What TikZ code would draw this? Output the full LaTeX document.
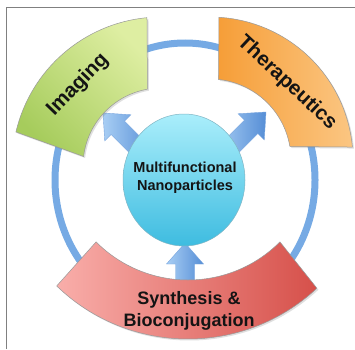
\documentclass[tikz,border=0pt]{standalone}
\usepackage{fontspec}
\setmainfont{Liberation Sans}
\usetikzlibrary{shadows}
\definecolor{framegray}{RGB}{128,128,128}
\definecolor{ringblue}{RGB}{118,170,228}
\definecolor{greenlight}{RGB}{222,238,162}
\definecolor{greendark}{RGB}{166,204,92}
\definecolor{orangedark}{RGB}{246,158,56}
\definecolor{orangelight}{RGB}{251,198,130}
\definecolor{redlight}{RGB}{249,174,170}
\definecolor{reddark}{RGB}{214,80,74}
\definecolor{cyanlight}{RGB}{170,238,251}
\definecolor{cyandark}{RGB}{62,188,224}
\definecolor{arrowlight}{RGB}{168,206,244}
\definecolor{arrowdark}{RGB}{86,142,214}
\definecolor{textblack}{RGB}{20,20,20}
\newcommand{\barrowshape}[1]{(0,0) -- (-21,18.5) -- (-21,9.5) -- (-#1,9.5) -- (-#1,-9.5) -- (-21,-9.5) -- (-21,-18.5) -- cycle}
\tikzset{
  sector/.style={draw=black!40, line width=0.5pt,
    drop shadow={opacity=0.25, shadow xshift=1.5pt, shadow yshift=-1.5pt}},
  blockarrow/.style={draw=arrowdark!80, line width=0.4pt, left color=arrowlight, right color=arrowdark},
  label/.style={font=\bfseries, text=textblack, align=center, inner sep=0pt}
}
\begin{document}
\begin{tikzpicture}[x=1pt,y=1pt]
\useasboundingbox (0,0) rectangle (355,349);
\fill[white] (0,0) rectangle (355,349);
% frame
\draw[framegray, line width=0.9pt] (6.5,0) -- (6.5,342) -- (355,342);
% ring
\draw[ringblue, line width=7pt] (185,169) ellipse [x radius=130, y radius=137];
% arrows
\begin{scope}[shift={(103,236)}, rotate=135]
  \path[blockarrow] \barrowshape{62};
\end{scope}
\begin{scope}[shift={(266,237)}, rotate=45]
  \path[blockarrow] \barrowshape{62};
\end{scope}
\begin{scope}[shift={(185,106)}, rotate=90]
  \path[blockarrow] \barrowshape{42};
\end{scope}
% Imaging sector
\begin{scope}[shift={(161,183)}]
  \path[sector, top color=greenlight, bottom color=greendark, shading angle=-45]
    (95.4:149) arc[start angle=95.4, end angle=166.8, radius=149]
    -- (173:78) arc[start angle=173, end angle=100, radius=78] -- cycle;
\end{scope}
% Therapeutics sector
\begin{scope}[shift={(210,189)}]
  \path[sector, left color=orangedark, right color=orangelight]
    (86.4:143) arc[start angle=86.4, end angle=5.2, radius=143]
    -- (9.6:81) arc[start angle=9.6, end angle=84, radius=81] -- cycle;
\end{scope}
% Synthesis sector
\begin{scope}[shift={(188,199)}]
  \path[sector, left color=redlight, right color=reddark]
    (225:130) arc[start angle=225, end angle=315, radius=130]
    -- (313:189) arc[start angle=313, end angle=226, radius=189] -- cycle;
\end{scope}
% central circle
\path[draw=cyandark!70!black!60, line width=0.5pt, top color=cyanlight, bottom color=cyandark]
  (184,169) ellipse [x radius=61, y radius=66];
% labels
\node[label, font=\fontsize{14.5}{17.5}\selectfont\bfseries] (np) at (185,171.5) {Multifunctional\\Nanoparticles};
\node[label, font=\fontsize{20.5}{24}\selectfont\bfseries, rotate=46] (img) at (78,264) {Imaging};
\node[label, font=\fontsize{20.5}{24}\selectfont\bfseries, rotate=-43] (thr) at (287,266) {Therapeutics};
\node[label, font=\fontsize{18}{22}\selectfont\bfseries] (syn) at (189,38) {Synthesis \&\\Bioconjugation};
\end{tikzpicture}
\end{document}
